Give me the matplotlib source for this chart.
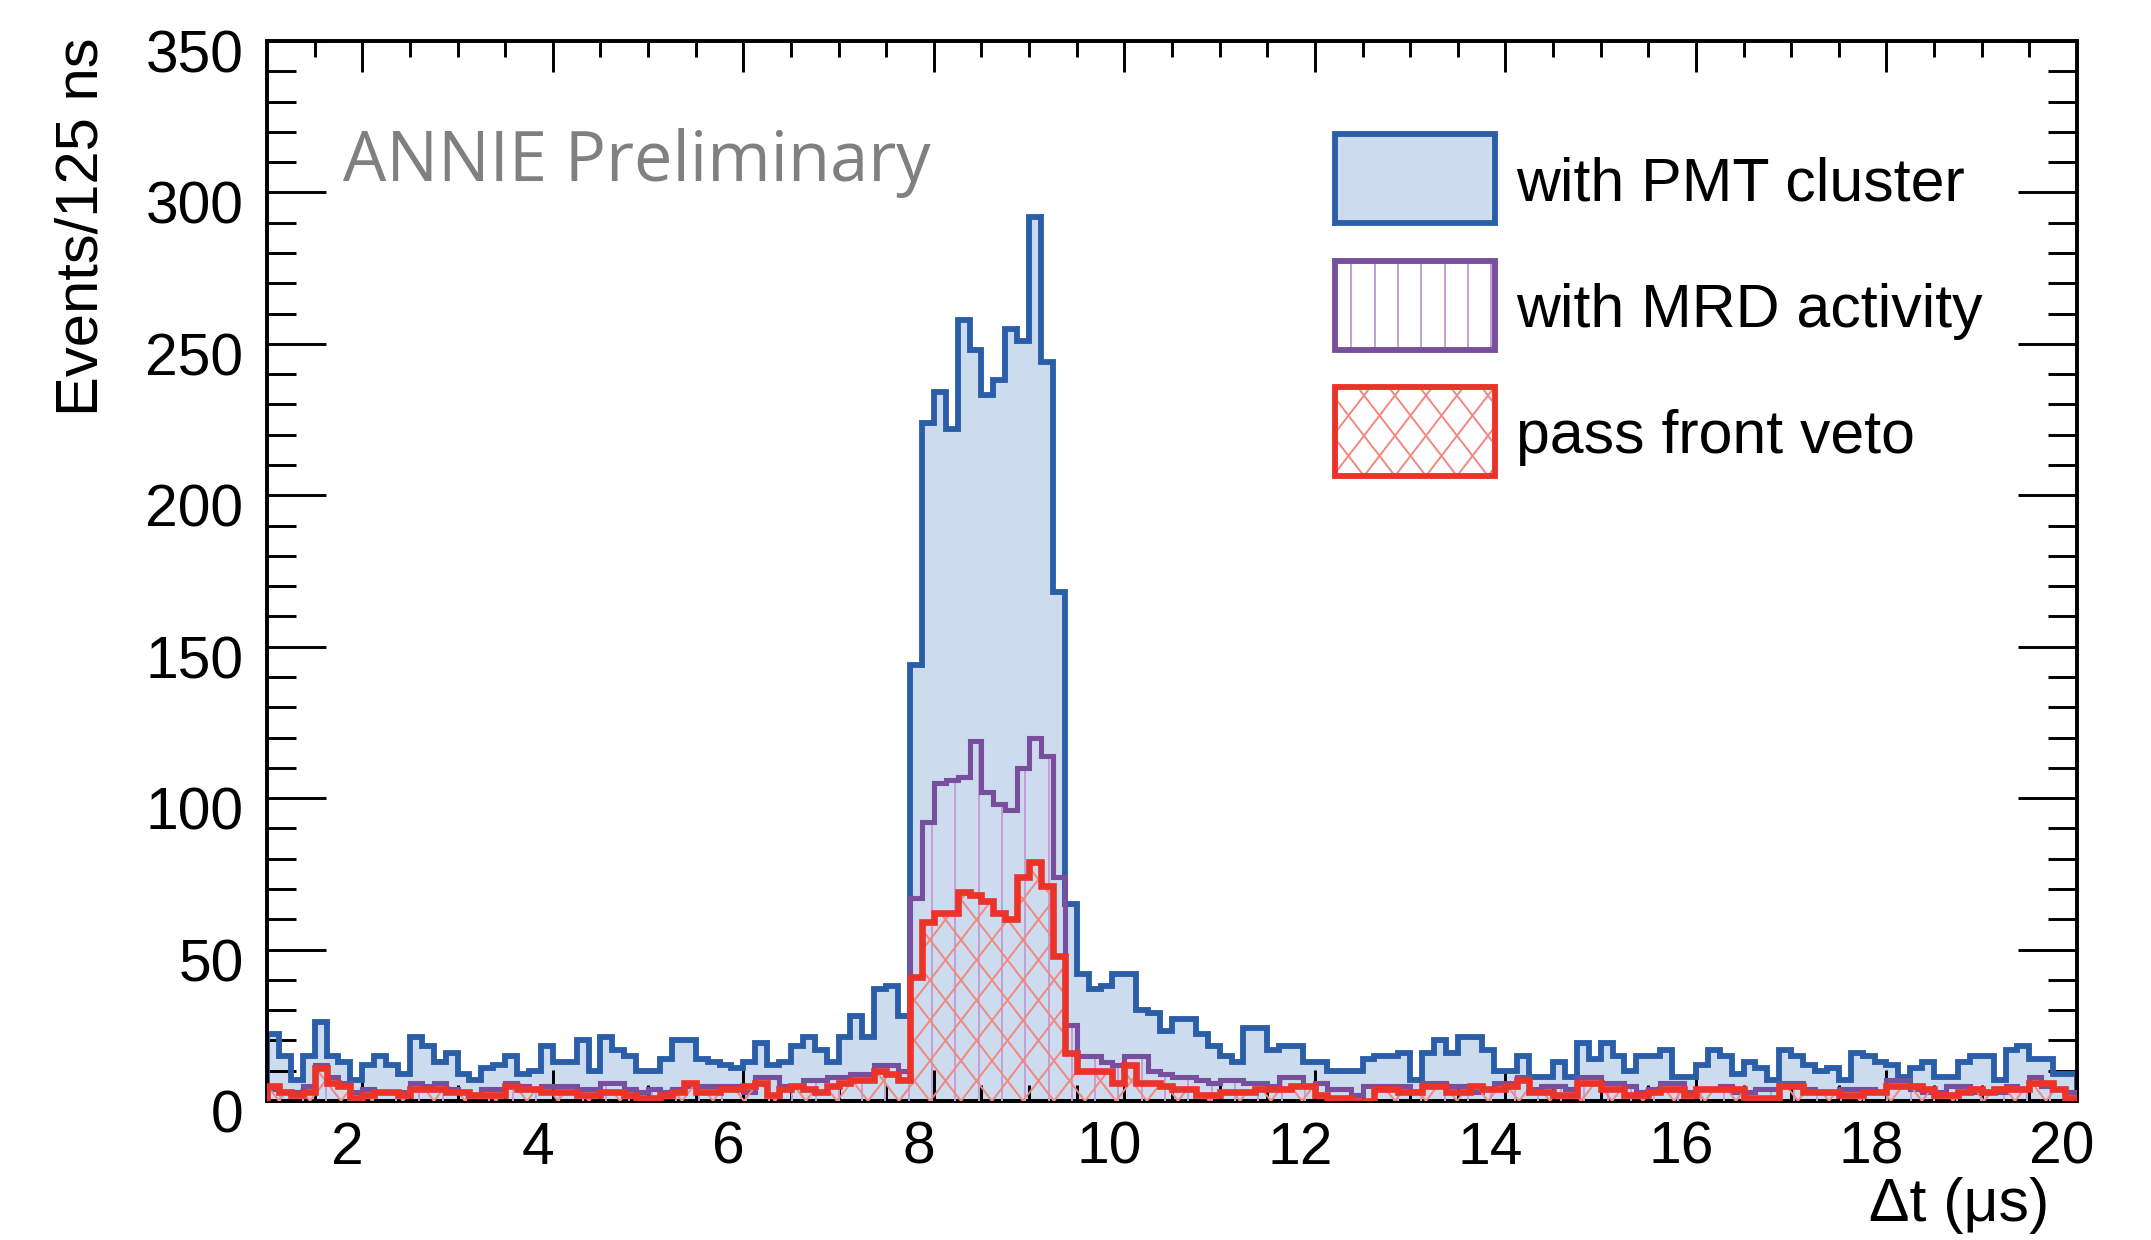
import numpy as np
import matplotlib
matplotlib.use('Agg')
import matplotlib.pyplot as plt
from matplotlib.patches import Rectangle
from matplotlib.collections import LineCollection
from matplotlib.ticker import MultipleLocator
from matplotlib.transforms import ScaledTranslation, IdentityTransform

# histogram range and binning (125 ns bins)
t_min, t_max = 1.0, 20.0

pmt_cluster = [
    22, 15, 7, 15, 26, 15, 13, 7, 12, 15,
    12, 9, 21, 18, 13, 16, 9, 7, 11, 12,
    15, 9, 10, 18, 13, 13, 20, 10, 21, 17,
    15, 10, 10, 14, 20, 20, 14, 13, 12, 11,
    13, 19, 12, 13, 18, 21, 17, 13, 21, 28,
    21, 37, 38, 28, 144, 224, 234, 222, 258, 248,
    233, 238, 255, 251, 292, 244, 168, 65, 42, 37,
    38, 42, 42, 30, 29, 23, 27, 27, 22, 18,
    15, 13, 24, 24, 17, 18, 18, 13, 13, 10,
    10, 10, 14, 15, 15, 16, 7, 16, 20, 16,
    21, 21, 17, 10, 10, 15, 8, 8, 13, 8,
    19, 14, 19, 15, 10, 15, 15, 17, 8, 8,
    12, 17, 15, 9, 13, 11, 7, 17, 15, 12,
    10, 11, 7, 16, 15, 13, 12, 8, 11, 13,
    8, 8, 13, 15, 15, 7, 17, 18, 14, 14,
    9, 9,
]

mrd_activity = [
    4, 3, 3, 5, 12, 8, 6, 3, 4, 3,
    3, 3, 6, 5, 6, 4, 3, 2, 4, 4,
    6, 5, 4, 5, 5, 5, 4, 4, 6, 6,
    4, 3, 4, 3, 4, 5, 5, 5, 5, 5,
    3, 8, 8, 5, 5, 7, 7, 8, 8, 9,
    9, 12, 12, 10, 67, 92, 105, 106, 107, 119,
    102, 98, 96, 110, 120, 114, 74, 25, 15, 15,
    13, 12, 15, 15, 10, 9, 8, 8, 7, 6,
    7, 7, 6, 6, 5, 8, 8, 5, 6, 4,
    4, 2, 5, 5, 5, 5, 3, 6, 6, 5,
    5, 3, 4, 6, 6, 8, 4, 5, 5, 4,
    8, 8, 6, 6, 5, 3, 4, 6, 6, 3,
    4, 4, 5, 3, 3, 4, 4, 6, 6, 4,
    3, 3, 4, 4, 4, 3, 7, 7, 4, 3,
    3, 5, 5, 3, 3, 3, 5, 4, 8, 5,
    4, 3,
]

front_veto = [
    5, 3, 2, 3, 11, 6, 5, 1, 2, 3,
    3, 2, 4, 4, 4, 3, 3, 2, 2, 2,
    5, 4, 4, 3, 3, 3, 2, 2, 3, 3,
    2, 1, 1, 2, 3, 6, 3, 3, 4, 4,
    5, 6, 2, 4, 5, 4, 3, 5, 6, 7,
    7, 10, 9, 7, 41, 59, 62, 62, 69, 68,
    66, 62, 60, 74, 79, 71, 48, 16, 10, 10,
    10, 6, 12, 6, 6, 5, 4, 4, 2, 2,
    3, 3, 3, 4, 4, 4, 5, 5, 2, 1,
    1, 0, 0, 4, 4, 3, 3, 5, 5, 3,
    3, 5, 4, 4, 5, 7, 3, 3, 2, 2,
    6, 6, 4, 4, 2, 2, 3, 4, 4, 2,
    4, 4, 4, 4, 1, 1, 1, 5, 5, 3,
    3, 3, 2, 2, 3, 3, 5, 5, 5, 4,
    2, 2, 3, 4, 3, 4, 4, 4, 6, 6,
    4, 1,
]

series_labels = ['with PMT cluster', 'with MRD activity', 'pass front veto']

blue_line, blue_fill = '#2b5ea8', '#ccdbed'
purple_line, purple_hatch = '#774f9c', '#c49fd4'
red_line, red_hatch = '#ec3329', '#f38880'

W, H = 2151, 1240
DPI = 141
plt.rcParams['font.family'] = ['Liberation Sans', 'DejaVu Sans']

fig = plt.figure(figsize=(W / DPI, H / DPI), dpi=DPI)
ax = fig.add_axes([267 / W, 139 / H, 1810 / W, 1060 / H])
ax.set_xlim(t_min, t_max)
ax.set_ylim(0, 350)


def add_hatch(clip, color, kind, spacing=23.3, slope=1.3, lw=1.0, zorder=3):
    # ROOT-like hatching drawn in pixel space and clipped to a patch
    bb = clip.get_window_extent()
    x0, x1, y0, y1 = bb.x0, bb.x1, bb.y0, bb.y1
    segs = []
    if kind == 'vertical':
        for x in np.arange(x0 - x0 % spacing, x1 + spacing, spacing):
            segs.append([(x, y0), (x, y1)])
    else:
        run = (y1 - y0) / slope
        for a in np.arange(x0 - run - (x0 - run) % spacing, x1 + run + spacing, spacing):
            segs.append([(a, y0), (a + run, y1)])
            segs.append([(a, y0), (a - run, y1)])
    lc = LineCollection(segs, colors=color, linewidths=lw, transform=IdentityTransform(),
                        zorder=zorder)
    ax.add_collection(lc, autolim=False)
    lc.set_clip_path(clip)


edges = np.linspace(t_min, t_max, len(pmt_cluster) + 1)

ax.stairs(pmt_cluster, edges, fill=True, facecolor=blue_fill, edgecolor='none', zorder=1)
ax.stairs(pmt_cluster, edges, color=blue_line, linewidth=3.0, zorder=2)

mrd_area = ax.stairs(mrd_activity, edges, fill=True, facecolor='none', linewidth=0, zorder=3)
add_hatch(mrd_area, purple_hatch, 'vertical', zorder=3)
ax.stairs(mrd_activity, edges, color=purple_line, linewidth=2.6, zorder=4)

veto_area = ax.stairs(front_veto, edges, fill=True, facecolor='none', linewidth=0, zorder=5)
add_hatch(veto_area, red_hatch, 'cross', spacing=31, zorder=5)
ax.stairs(front_veto, edges, color=red_line, linewidth=3.4, zorder=6)

ax.xaxis.set_major_locator(MultipleLocator(2))
ax.xaxis.set_minor_locator(MultipleLocator(0.5))
ax.yaxis.set_major_locator(MultipleLocator(50))
ax.yaxis.set_minor_locator(MultipleLocator(10))
ax.tick_params(which='both', direction='in', top=True, right=True, width=1.5, labelsize=30)
ax.tick_params(axis='x', which='major', length=16, pad=10)
ax.tick_params(axis='x', which='minor', length=8)
ax.tick_params(axis='y', which='major', length=30, pad=12)
ax.tick_params(axis='y', which='minor', length=15)
for sp in ax.spines.values():
    sp.set_linewidth(2)

# the labels in the original sit a little left / below their ticks
for lab in ax.get_xticklabels():
    lab.set_transform(lab.get_transform() + ScaledTranslation(-15 / DPI, 0, fig.dpi_scale_trans))
for lab in ax.get_yticklabels():
    lab.set_transform(lab.get_transform() + ScaledTranslation(0, -10 / DPI, fig.dpi_scale_trans))

fig.text(82 / W, 1 - 38 / H, 'Events/125 ns', rotation=90, ha='center', va='top', fontsize=30.5)
fig.text(2049 / W, 1 - 1205 / H, 'Δt (μs)', ha='right', va='center', fontsize=31)
fig.text(343 / W, 1 - 181 / H, 'ANNIE Preliminary', family='Open Sans', color='#808080',
         fontsize=35, va='baseline')

# legend drawn by hand so the boxes carry the same hatching as the histograms
box_w, box_h = 160 / 1810, 89 / 1060
box_x = (1335 - 267) / 1810
box_tops = [1 - (134 - 41) / 1060, 1 - (261 - 41) / 1060, 1 - (387 - 41) / 1060]
box_styles = [
    (blue_fill, blue_line, None, None, 0),
    ('white', purple_line, purple_hatch, 'vertical', 23.3),
    ('white', red_line, red_hatch, 'cross', 31),
]
for top, label, (face, edge, hcol, kind, step) in zip(box_tops, series_labels, box_styles):
    y = top - box_h
    ax.add_patch(Rectangle((box_x, y), box_w, box_h, transform=ax.transAxes,
                           facecolor=face, edgecolor='none', zorder=8))
    if kind is not None:
        inner = Rectangle((box_x, y), box_w, box_h, transform=ax.transAxes,
                          facecolor='none', edgecolor='none', zorder=8)
        ax.add_patch(inner)
        add_hatch(inner, hcol, kind, spacing=step, zorder=9)
    ax.add_patch(Rectangle((box_x, y), box_w, box_h, transform=ax.transAxes,
                           facecolor='none', edgecolor=edge, linewidth=3, zorder=10))
    ax.text(box_x + box_w + 21 / 1810, y + box_h / 2 - 22 / 1060, label,
            transform=ax.transAxes, fontsize=31, va='baseline', ha='left')

fig.savefig('out.png', dpi=DPI)
